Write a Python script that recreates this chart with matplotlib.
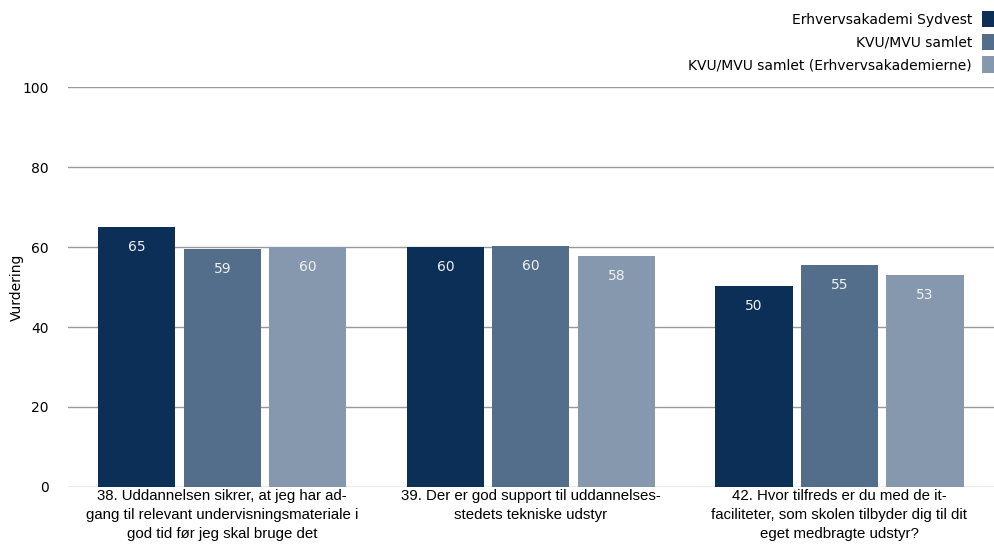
import numpy as np
import matplotlib
matplotlib.use("Agg")
import matplotlib.pyplot as plt

# Data
categories = [
    "38. Uddannelsen sikrer, at jeg har ad-\ngang til relevant undervisningsmateriale i\ngod tid før jeg skal bruge det",
    "39. Der er god support til uddannelses-\nstedets tekniske udstyr",
    "42. Hvor tilfreds er du med de it-\nfaciliteter, som skolen tilbyder dig til dit\neget medbragte udstyr?",
]
series_names = [
    "Erhvervsakademi Sydvest",
    "KVU/MVU samlet",
    "KVU/MVU samlet (Erhvervsakademierne)",
]
sydvest = [65.0, 60.0, 50.3]
kvu_mvu = [59.4, 60.3, 55.4]
kvu_eak = [60.0, 57.8, 53.0]
y_ticks = [0, 20, 40, 60, 80, 100]

colors = ["#0c2f57", "#536e8a", "#8698ad"]


def main():
    fig = plt.figure(figsize=(9.95, 5.51), dpi=100, facecolor="white")
    ax = fig.add_axes([0.0683, 0.1162, 0.9367, 0.7258])

    x = np.arange(len(categories))
    width = 0.25
    step = 0.277
    all_series = [sydvest, kvu_mvu, kvu_eak]

    for i, (vals, name, col) in enumerate(zip(all_series, series_names, colors)):
        pos = x + (i - 1) * step
        ax.bar(pos, vals, width=width, color=col, label=name, zorder=3)
        for p, v in zip(pos, vals):
            ax.annotate(f"{v:.0f}", (p, v), xytext=(0, -20), textcoords="offset pixels",
                        ha="center", va="center", color="#f0f0f0", fontsize=10, zorder=4)

    ax.set_xlim(-0.5, 2.52)
    ax.set_ylim(0, 100)
    ax.set_yticks(y_ticks)
    ax.yaxis.grid(True, color="#999999", linewidth=1.0, zorder=0)
    ax.set_axisbelow(True)
    for s in ax.spines.values():
        s.set_visible(False)
    ax.tick_params(axis="both", length=0)
    ax.tick_params(axis="y", labelsize=10, pad=14)

    ax.set_xticks(x)
    ax.set_xticklabels(categories, fontsize=10.8, linespacing=1.45,
                       family=["Liberation Sans", "DejaVu Sans"])
    ax.tick_params(axis="x", pad=1.5)

    ax.set_ylabel("Vurdering", fontsize=10)
    ax.yaxis.set_label_coords(-0.047, 0.5)

    leg = fig.legend(loc="upper right", bbox_to_anchor=(1.0, 1 - 11 / 551), frameon=False,
                     markerfirst=False, fontsize=10, handlelength=0.95, handleheight=1.45,
                     handletextpad=0.7, labelspacing=0.45, borderaxespad=0.0,
                     borderpad=0.0)
    leg._legend_box.align = "right"

    fig.savefig("out.png", dpi=100, facecolor="white")
    plt.close(fig)


if __name__ == "__main__":
    main()
